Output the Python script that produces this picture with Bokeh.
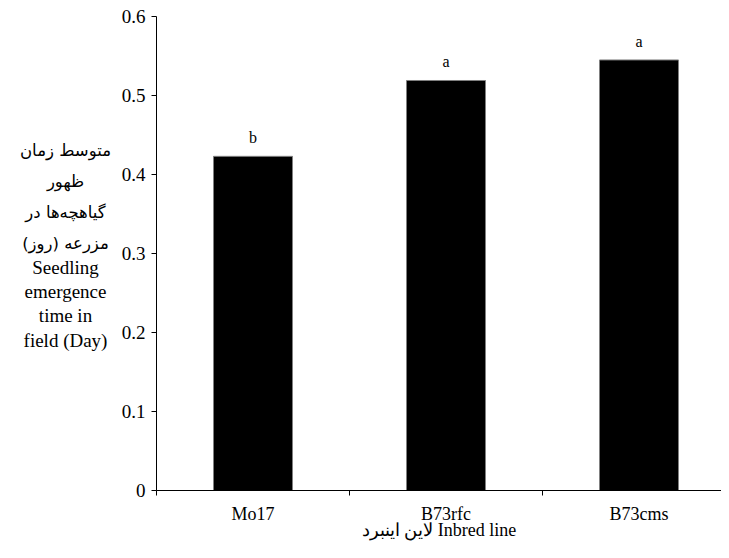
from bokeh.plotting import figure
from bokeh.layouts import row
from bokeh.models import Range1d, FixedTicker, Label, LabelSet, ColumnDataSource
from bokeh.core.properties import value
from bokeh.embed import file_html
from bokeh.resources import INLINE

# ---- data ----
inbred_lines = ["Mo17", "B73rfc", "B73cms"]
mean_emergence = [0.423, 0.519, 0.545]
group_letters = ["b", "a", "a"]
y_tick_values = [0, 0.1, 0.2, 0.3, 0.4, 0.5, 0.6]
y_tick_labels = ["0", "0.1", "0.2", "0.3", "0.4", "0.5", "0.6"]
y_title_fa = ["متوسط زمان", "ظهور", "گیاهچه\u200cها در", "مزرعه (روز)"]
y_title_en = ["Seedling", "emergence", "time in", "field (Day)"]
x_title = "لاین اینبرد Inbred line"

# ---- layout ----
OFF = 1          # picture offset of canvas
W, H = 721, 542  # whole row
LW = 118         # width of the y-title panel
MW = W - LW      # main figure width
BL, BR, BT, BB = 156 - LW, 0, 16, 50
cat_px = 193.0
x_end = (MW - BL - BR) / cat_px
frame_h = H - BT - BB
y_end = 0.6

def img_to_y(img_y):
    return (OFF + BT + frame_h - img_y) / frame_h * y_end

SERIF = "Liberation Serif"

# ---- main bar chart ----
p = figure(width=MW, height=H, x_range=Range1d(0, x_end), y_range=Range1d(0, y_end),
           output_backend="svg", toolbar_location=None,
           min_border_left=BL, min_border_right=BR, min_border_top=BT, min_border_bottom=BB)
p.outline_line_color = None
p.grid.visible = False
p.background_fill_color = "white"
p.border_fill_color = "white"

xs = [i + 0.5 for i in range(len(inbred_lines))]
src = ColumnDataSource(dict(x=xs, top=mean_emergence, letter=group_letters))
p.vbar(x="x", top="top", width=79 / cat_px, source=src,
       fill_color="black", line_color="#808080", line_width=1)

letters = LabelSet(x="x", y="top", text="letter", source=src, y_offset=13,
                   text_align="center", text_baseline="alphabetic",
                   text_font=value(SERIF), text_font_size="16px", text_color="black")
p.add_layout(letters)

# y axis
ya = p.yaxis[0]
ya.ticker = FixedTicker(ticks=y_tick_values)
ya.major_label_overrides = {t: l for t, l in zip(y_tick_values, y_tick_labels)}
ya.axis_line_color = "black"
ya.major_tick_line_color = "black"
ya.major_tick_out = 5
ya.major_tick_in = 0
ya.minor_tick_out = 0
ya.minor_tick_in = 0
ya.major_label_standoff = 6
ya.major_label_text_font = SERIF
ya.major_label_text_font_size = "19px"
ya.major_label_text_color = "black"

# x axis
xa = p.xaxis[0]
xa.ticker = FixedTicker(ticks=xs, minor_ticks=list(range(len(inbred_lines) + 1)))
xa.major_label_overrides = {x: n for x, n in zip(xs, inbred_lines)}
xa.axis_line_color = "black"
xa.major_tick_out = 0
xa.major_tick_in = 0
xa.minor_tick_out = 5
xa.minor_tick_in = 0
xa.minor_tick_line_color = "black"
xa.major_label_standoff = 8
xa.major_label_text_font = SERIF
xa.major_label_text_font_size = "18px"
xa.major_label_text_color = "black"
xa.axis_label = x_title
xa.axis_label_standoff = -7
xa.axis_label_text_font = SERIF
xa.axis_label_text_font_style = "normal"
xa.axis_label_text_font_size = "18px"
xa.axis_label_text_color = "black"

# ---- left panel holding the horizontal y-axis title ----
left = figure(width=LW, height=H, x_range=Range1d(0, LW), y_range=p.y_range,
              output_backend="svg", toolbar_location=None,
              min_border_left=0, min_border_right=0, min_border_top=BT, min_border_bottom=BB,
              x_axis_type=None, y_axis_type=None)
left.outline_line_color = None
left.grid.visible = False
left.background_fill_color = "white"
left.border_fill_color = "white"

cx = 66 - OFF
fa_base = [152 + 31 * i for i in range(len(y_title_fa))]
en_base = [269 + 24.3 * i for i in range(len(y_title_en))]
for t, b in zip(y_title_fa, fa_base):
    left.add_layout(Label(x=cx, y=img_to_y(b), text=t, text_align="center",
                          text_baseline="alphabetic", text_font="DejaVu Sans",
                          text_font_size="16.5px", text_color="black"))
for t, b in zip(y_title_en, en_base):
    left.add_layout(Label(x=cx, y=img_to_y(b), text=t, text_align="center",
                          text_baseline="alphabetic", text_font=SERIF,
                          text_font_size="19px", text_color="black"))

layout = row(left, p, spacing=0)
open("out.html", "w").write(file_html(layout, INLINE))
